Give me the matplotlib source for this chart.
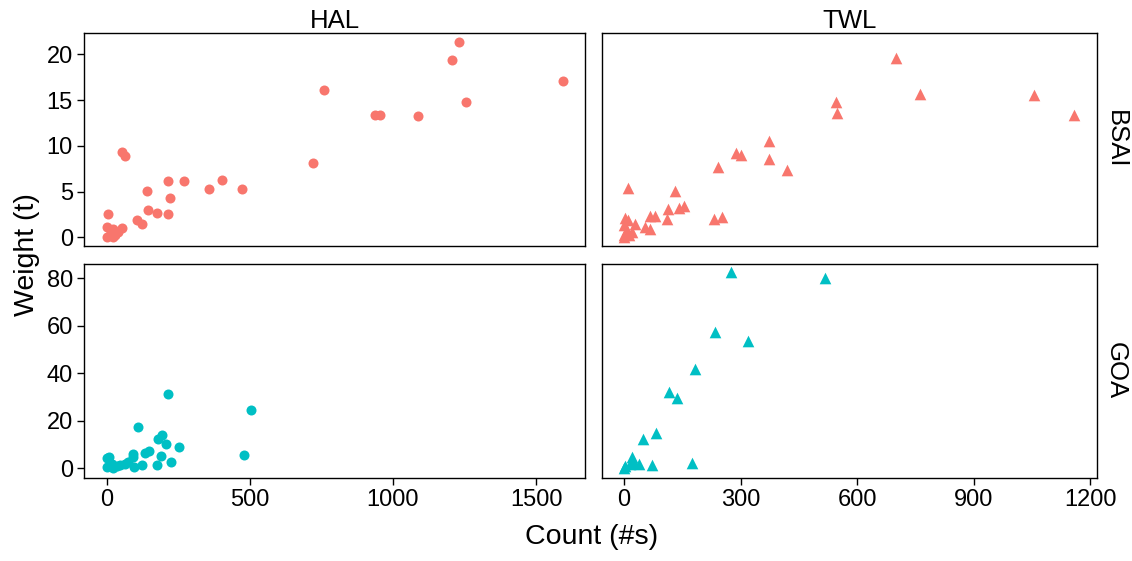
import matplotlib
matplotlib.use("Agg")
import matplotlib.pyplot as plt

plt.rcParams['font.family'] = ['Liberation Sans', 'DejaVu Sans']

# Data (count, weight)
hal_bsai_count = [1231, 1208, 1593, 760, 1257, 937, 955, 1086, 722, 52, 64, 215, 269, 404,
                  356, 474, 140, 220, 143, 177, 215, 105, 123, 4, 0, 55, 41, 23, 0, 23, 12, 30]
hal_bsai_weight = [21.4, 19.4, 17.1, 16.1, 14.8, 13.4, 13.4, 13.3, 8.1, 9.3, 8.9, 6.1, 6.1, 6.3,
                   5.3, 5.3, 5.1, 4.3, 2.95, 2.7, 2.5, 1.9, 1.4, 2.5, 1.1, 1.05, 0.55, 0.9, 0.03, 0.03, 0.3, 0.2]

twl_bsai_count = [700, 762, 1056, 1159, 545, 549, 373, 288, 300, 373, 419, 241, 9, 131, 112,
                  142, 153, 110, 232, 251, 67, 80, 54, 67, 28, 3, 11, 0, 8, 0, 13, 0, 19]
twl_bsai_weight = [19.6, 15.7, 15.55, 13.4, 14.75, 13.6, 10.5, 9.2, 9.0, 8.55, 7.4, 7.7, 5.35, 5.06, 3.1,
                   3.2, 3.45, 1.95, 1.95, 2.2, 2.3, 2.3, 1.16, 0.9, 1.5, 2.1, 1.9, 1.3, 0.8, 0.25, 0.25, 0.05, 0.6]

hal_goa_count = [216, 505, 110, 480, 194, 180, 206, 253, 149, 135, 92, 93, 189, 226, 177, 124,
                 96, 65, 46, 9, 0, 0, 23, 35, 18, 74]
hal_goa_weight = [31.3, 24.4, 17.5, 5.6, 14.0, 12.3, 10.2, 8.8, 7.1, 6.6, 6.0, 4.6, 5.2, 2.65, 1.25, 1.25,
                  0.4, 1.8, 1.4, 4.6, 4.2, 0.4, 0.0, 1.1, 2.0, 2.8]

twl_goa_count = [276, 518, 233, 320, 182, 115, 137, 83, 48, 176, 72, 20, 39, 3, 14, 0, 25]
twl_goa_weight = [82.5, 80, 57.5, 53.6, 41.8, 32.3, 29.5, 14.7, 12.2, 2.4, 1.4, 4.8, 1.7, 1.1, 1.7, 0.0, 2.2]

red = '#F8766D'
teal = '#00BFC4'

fig = plt.figure(figsize=(11.32, 5.61), dpi=100)
W, H = 1132, 561

def panel(x0, x1, y0, y1):
    return fig.add_axes([x0 / W, 1 - y1 / H, (x1 - x0) / W, (y1 - y0) / H])

ax_hb = panel(84, 585, 33, 246)
ax_tb = panel(602, 1097, 33, 246)
ax_hg = panel(84, 585, 264, 478)
ax_tg = panel(602, 1097, 264, 478)

ax_hb.scatter(hal_bsai_count, hal_bsai_weight, s=52, c=red, marker='o', linewidths=0)
ax_tb.scatter(twl_bsai_count, twl_bsai_weight, s=70, c=red, marker='^', linewidths=0)
ax_hg.scatter(hal_goa_count, hal_goa_weight, s=52, c=teal, marker='o', linewidths=0)
ax_tg.scatter(twl_goa_count, twl_goa_weight, s=70, c=teal, marker='^', linewidths=0)

for ax in [ax_hb, ax_hg]:
    ax.set_xlim(-79, 1671)
    ax.set_xticks([0, 500, 1000, 1500])
for ax in [ax_tb, ax_tg]:
    ax.set_xlim(-57, 1218)
    ax.set_xticks([0, 300, 600, 900, 1200])
for ax in [ax_hb, ax_tb]:
    ax.set_ylim(-0.95, 22.33)
    ax.set_yticks([0, 5, 10, 15, 20])
for ax in [ax_hg, ax_tg]:
    ax.set_ylim(-4.08, 86.0)
    ax.set_yticks([0, 20, 40, 60, 80])

for ax in [ax_hb, ax_tb, ax_hg, ax_tg]:
    for sp in ax.spines.values():
        sp.set_linewidth(1.0)
        sp.set_color('black')
    ax.tick_params(direction='out', length=5, width=1.0, labelsize=17, colors='black', pad=3)

ax_hb.tick_params(labelbottom=False, bottom=False)
ax_tb.tick_params(labelbottom=False, bottom=False, left=False, labelleft=False)
ax_tg.tick_params(left=False, labelleft=False)

ax_hb.set_title('HAL', fontsize=18.5, pad=3)
ax_tb.set_title('TWL', fontsize=18.5, pad=3)
ax_tb.text(1.014, 0.5, 'BSAI', transform=ax_tb.transAxes, rotation=-90,
           ha='left', va='center', fontsize=18.5)
ax_tg.text(1.014, 0.5, 'GOA', transform=ax_tg.transAxes, rotation=-90,
           ha='left', va='center', fontsize=18.5)

fig.text(592 / W, 1 - 537 / H, 'Count (#s)', ha='center', va='center', fontsize=20.5)
fig.text(27 / W, 1 - 255 / H, 'Weight (t)', ha='center', va='center', rotation=90, fontsize=20.5)

fig.savefig('out.png', dpi=100)
